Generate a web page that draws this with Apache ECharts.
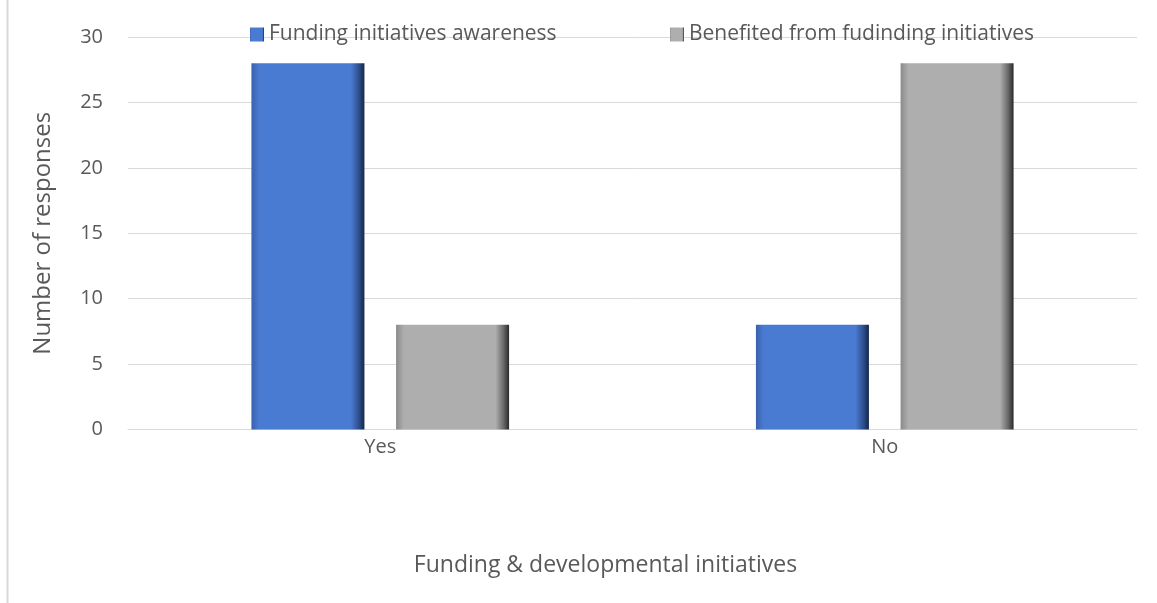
<!DOCTYPE html>
<html><head><meta charset="utf-8">
<script src="https://cdn.jsdelivr.net/npm/echarts@6/dist/echarts.min.js"></script>
<style>html,body{margin:0;padding:0;background:#fff}#c{width:1157px;height:603px}</style>
</head><body><div id="c"></div>
<script>
const categories = ['Yes', 'No'];
const awareness = [28, 8];
const benefited = [8, 28];
const seriesNames = ['Funding initiatives awareness', 'Benefited from fudinding initiatives'];
const yTicks = [0, 5, 10, 15, 20, 25, 30];

const FONT = 'Open Sans';
const TXT = '#595959';

function bevel(edgeL, mid, edgeR, dark) {
  return new echarts.graphic.LinearGradient(0, 0, 1, 0, [
    {offset: 0, color: edgeL},
    {offset: 0.07, color: mid},
    {offset: 0.88, color: mid},
    {offset: 0.95, color: edgeR},
    {offset: 1, color: dark}
  ]);
}

const chart = echarts.init(document.getElementById('c'));
chart.setOption({
  animation: false,
  backgroundColor: '#fff',
  graphic: [{type: 'line', shape: {x1: 7.5, y1: 0, x2: 7.5, y2: 603}, style: {stroke: '#d9d9d9', lineWidth: 2}}],
  legend: [
    {data: [seriesNames[0]], left: 245, top: 19, itemWidth: 14, itemHeight: 14, icon: 'rect',
     textStyle: {fontFamily: FONT, fontSize: 21, color: TXT}},
    {data: [seriesNames[1]], left: 665, top: 19, itemWidth: 14, itemHeight: 14, icon: 'rect',
     textStyle: {fontFamily: FONT, fontSize: 21, color: TXT}}
  ],
  grid: {left: 128, right: 20, top: 37, bottom: 173.5, containLabel: false},
  xAxis: {
    type: 'category', data: categories,
    name: 'Funding & developmental initiatives', nameLocation: 'middle', nameGap: 124,
    nameTextStyle: {fontFamily: FONT, fontSize: 23, color: TXT, padding: [0, 54, 0, 0]},
    axisLine: {show: true, lineStyle: {color: '#d9d9d9', width: 1}},
    axisTick: {show: false},
    axisLabel: {fontFamily: FONT, fontSize: 20, color: TXT, margin: 8}
  },
  yAxis: {
    type: 'value', min: 0, max: 30, interval: 5,
    name: 'Number of responses', nameLocation: 'middle', nameGap: 73,
    nameTextStyle: {fontFamily: FONT, fontSize: 24, color: TXT},
    axisLine: {show: false}, axisTick: {show: false},
    splitLine: {lineStyle: {color: '#d9d9d9', width: 1}},
    axisLabel: {fontFamily: FONT, fontSize: 20, color: TXT, margin: 25,
      formatter: v => yTicks.includes(v) ? String(v) : ''}
  },
  series: [
    {name: seriesNames[0], type: 'bar', data: awareness, barWidth: '22.4%', barGap: '28%',
     itemStyle: {color: bevel('#3a62ad', '#4a7bd3', '#2e4f8e', '#15264a')}},
    {name: seriesNames[1], type: 'bar', data: benefited, barWidth: '22.4%',
     itemStyle: {color: bevel('#8a8a8a', '#aeaeae', '#6a6a6a', '#2a2a2a')}}
  ]
});
</script></body></html>
